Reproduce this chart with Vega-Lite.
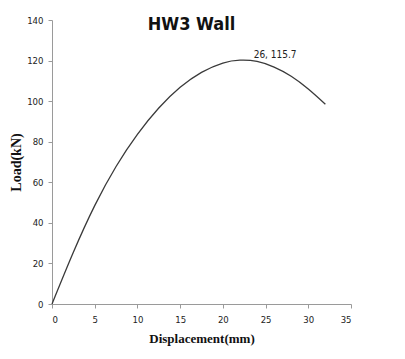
{
  "$schema": "https://vega.github.io/schema/vega-lite/v6.json",
  "width": 299,
  "height": 284,
  "autosize": "none",
  "padding": {"left": 52, "top": 20, "right": 54, "bottom": 55},
  "background": "white",
  "config": {"view": {"stroke": null}},
  "title": {
    "text": "HW3 Wall",
    "font": "DejaVu Sans Condensed, Liberation Sans",
    "fontSize": 18,
    "fontWeight": "bold",
    "color": "#111111",
    "anchor": "middle",
    "dx": -10,
    "offset": -28,
    "baseline": "middle"
  },
  "datasets": {
    "curve": [
      {"d": 0, "load": 0},
      {"d": 2.5, "load": 25.5},
      {"d": 5, "load": 48.5},
      {"d": 7.5, "load": 67.8},
      {"d": 10, "load": 83.6},
      {"d": 12.5, "load": 96.6},
      {"d": 15, "load": 106.8},
      {"d": 17.5, "load": 114.2},
      {"d": 20, "load": 118.8},
      {"d": 22, "load": 120.2},
      {"d": 24, "load": 119.6},
      {"d": 26, "load": 116.8},
      {"d": 28, "load": 112.3},
      {"d": 30, "load": 106},
      {"d": 32, "load": 98.5}
    ],
    "label": [{"d": 26, "load": 115.7, "text": "26, 115.7"}]
  },
  "encoding": {
    "x": {
      "field": "d", "type": "quantitative",
      "scale": {"domain": [0, 35], "nice": false},
      "axis": {
        "values": [0, 5, 10, 15, 20, 25, 30, 35],
        "title": "Displacement(mm)",
        "titleFont": "Liberation Serif",
        "titleFontWeight": "bold",
        "titleFontSize": 13,
        "titleColor": "#111111",
        "titlePadding": 9,
        "labelFont": "DejaVu Sans Condensed, Liberation Sans",
        "labelFontSize": 9.5,
        "labelColor": "#222222",
        "labelPadding": 6,
        "domainColor": "#9a9a9a",
        "tickColor": "#9a9a9a",
        "tickSize": 4,
        "grid": false
      }
    },
    "y": {
      "field": "load", "type": "quantitative",
      "scale": {"domain": [0, 140], "nice": false},
      "axis": {
        "values": [0, 20, 40, 60, 80, 100, 120, 140],
        "title": "Load(kN)",
        "titleFont": "Liberation Serif",
        "titleFontWeight": "bold",
        "titleFontSize": 14,
        "titleColor": "#111111",
        "titlePadding": 3,
        "labelFont": "DejaVu Sans Condensed, Liberation Sans",
        "labelFontSize": 9.5,
        "labelColor": "#222222",
        "labelPadding": 5,
        "domainColor": "#9a9a9a",
        "tickColor": "#9a9a9a",
        "tickSize": 4,
        "grid": false
      }
    }
  },
  "layer": [
    {
      "data": {"name": "curve"},
      "mark": {"type": "line", "interpolate": "natural", "color": "#3a3a3a", "strokeWidth": 1.3}
    },
    {
      "data": {"name": "label"},
      "mark": {"type": "text", "dy": -14, "dx": 1, "font": "DejaVu Sans Condensed, Liberation Sans", "fontSize": 10, "color": "#222222"},
      "encoding": {"text": {"field": "text"}}
    }
  ]
}
